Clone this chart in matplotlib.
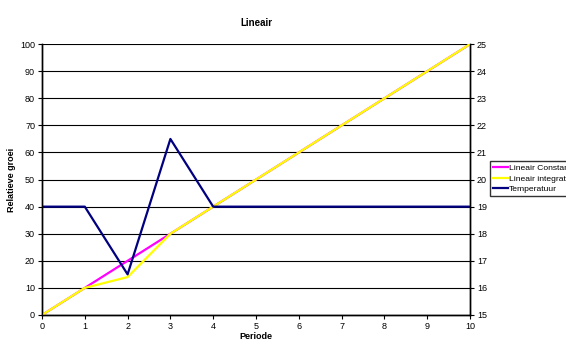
import matplotlib.pyplot as plt

plt.rcParams['font.family'] = ['Liberation Sans', 'DejaVu Sans']

# data
periode = [0, 1, 2, 3, 4, 5, 6, 7, 8, 9, 10]
lineair_constant = [0, 10, 20, 30, 40, 50, 60, 70, 80, 90, 100]
lineair_integratie = [0, 10, 14, 30, 40, 50, 60, 70, 80, 90, 100]
temperatuur = [19, 19, 16.5, 21.5, 19, 19, 19, 19, 19, 19, 19]

fig = plt.figure(figsize=(5.66, 3.45), dpi=100)
ax = fig.add_axes([0.0742, 0.087, 0.7562, 0.785])
ax2 = ax.twinx()

l1, = ax.plot(periode, lineair_constant, color='#FF00FF', lw=1.6, label='Lineair Constant', zorder=3)
l2, = ax.plot(periode, lineair_integratie, color='#FFFF00', lw=1.6, label='Lineair integratie', zorder=4)
l3, = ax2.plot(periode, temperatuur, color='#000080', lw=1.6, label='Temperatuur')

ax.set_xlim(0, 10)
ax.set_ylim(0, 100)
ax2.set_ylim(15, 25)
ax.set_xticks(range(0, 11))
ax.set_yticks(range(0, 101, 10))
ax2.set_yticks(range(15, 26))

ax.yaxis.grid(True, color='black', lw=0.8)
ax.set_axisbelow(True)

for a in (ax, ax2):
    a.tick_params(labelsize=6.5, length=3, width=0.8, pad=2)
    for s in a.spines.values():
        s.set_linewidth(1.0)
ax.spines['top'].set_visible(False)
ax2.spines['top'].set_visible(False)

ax.set_title('Lineair', fontsize=7, fontweight='bold', pad=13)
ax.set_xlabel('Periode', fontsize=6.5, fontweight='bold', labelpad=1)
ax.set_ylabel('Relatieve groei', fontsize=6.5, fontweight='bold', labelpad=3)

fig.legend(handles=[l1, l2, l3], loc='upper left', bbox_to_anchor=(0.866, 0.532),
           fontsize=6.1, frameon=True, fancybox=False, edgecolor='black',
           handlelength=1.8, handletextpad=0.1, borderpad=0.35, labelspacing=0.3,
           borderaxespad=0)

fig.savefig('out.png', dpi=100)
